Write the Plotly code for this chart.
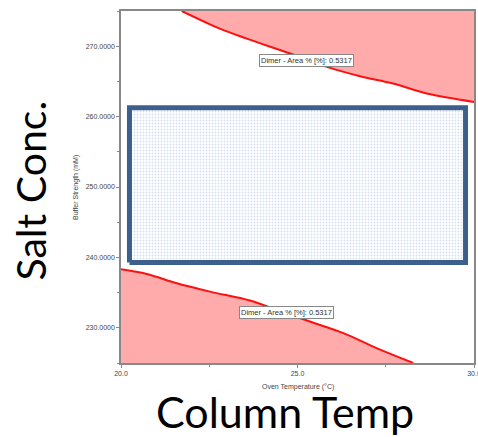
import plotly.graph_objects as go

# Oven temperature (°C) vs buffer strength (mM) contours at Dimer area % = 0.5317
upper_temp = [21.72, 22.80, 23.56, 24.79, 25.83, 26.77, 27.71, 28.66, 30.00]
upper_salt = [275.00, 272.50, 271.08, 268.96, 267.06, 265.74, 264.70, 263.28, 262.09]

lower_temp = [20.00, 20.73, 21.58, 22.52, 23.65, 24.41, 25.35, 26.30, 27.24, 28.28]
lower_salt = [238.32, 237.65, 236.33, 235.14, 233.87, 232.55, 230.89, 229.24, 227.11, 225.00]

# Design space rectangle (temperature / buffer strength limits)
design_temp = [20.24, 29.76]
design_salt = [239.26, 261.27]

x_range = [20.0, 30.0]
y_range = [225.0, 275.0]

contour_label = "Dimer - Area % [%]: 0.5317"
upper_label_pos = (25.26, 267.96)
lower_label_pos = (24.69, 232.16)

fill_red = "#FFABAB"
line_red = "#FF1010"

fig = go.Figure()

# Region above the upper contour
fig.add_trace(go.Scatter(
    x=upper_temp + [x_range[1], upper_temp[0]],
    y=upper_salt + [y_range[1], upper_salt[0]],
    fill="toself", fillcolor=fill_red, mode="lines",
    line=dict(color="rgba(0,0,0,0)", width=0), hoverinfo="skip", showlegend=False))
fig.add_trace(go.Scatter(
    x=upper_temp, y=upper_salt, mode="lines",
    line=dict(color=line_red, width=2, shape="spline"), showlegend=False))

# Region below the lower contour
fig.add_trace(go.Scatter(
    x=lower_temp + [x_range[0], lower_temp[0]],
    y=lower_salt + [y_range[0], lower_salt[0]],
    fill="toself", fillcolor=fill_red, mode="lines",
    line=dict(color="rgba(0,0,0,0)", width=0), hoverinfo="skip", showlegend=False))
fig.add_trace(go.Scatter(
    x=lower_temp, y=lower_salt, mode="lines",
    line=dict(color=line_red, width=2, shape="spline"), showlegend=False))

# Design space box with dotted fill
bx = [design_temp[0], design_temp[1], design_temp[1], design_temp[0], design_temp[0]]
by = [design_salt[0], design_salt[0], design_salt[1], design_salt[1], design_salt[0]]
fig.add_trace(go.Scatter(
    x=bx, y=by, mode="lines", fill="toself",
    fillcolor="white",
    fillpattern=dict(shape=".", fgcolor="#A9BFE0", bgcolor="white", size=3, solidity=0.3),
    line=dict(color="#3D5F8C", width=5), showlegend=False))

tick_font = dict(family="Liberation Sans, Arial, sans-serif", size=7, color="#444")

for (lx, ly) in (upper_label_pos, lower_label_pos):
    fig.add_annotation(
        x=lx, y=ly, xref="x", yref="y", text=contour_label, showarrow=False,
        font=dict(family="Liberation Sans, Arial, sans-serif", size=7.5, color="#333"),
        bgcolor="white", bordercolor="#888", borderwidth=1, borderpad=1)

# Axis titles
fig.add_annotation(
    x=0.5, y=-0.068, xref="paper", yref="paper", text="Oven Temperature (°C)",
    showarrow=False, font=tick_font, xanchor="center", yanchor="middle")
fig.add_annotation(
    x=-0.1275, y=0.5, xref="paper", yref="paper", text="Buffer Strength (mM)",
    showarrow=False, font=tick_font, textangle=-90, xanchor="center", yanchor="middle")

# Large slide labels
big_font = dict(family="Lato, Open Sans, sans-serif", size=43, color="black")
fig.add_annotation(
    x=-0.255, y=0.49, xref="paper", yref="paper", text="Salt Conc.",
    showarrow=False, font=dict(family="Lato, Open Sans, sans-serif", size=41, color="black"),
    textangle=-90, xanchor="center", yanchor="middle")
fig.add_annotation(
    x=0.465, y=-0.138, xref="paper", yref="paper", text="Column Temp",
    showarrow=False, font=big_font, xanchor="center", yanchor="middle")

fig.update_layout(
    width=478, height=437,
    margin=dict(l=121, r=4, t=11, b=74),
    paper_bgcolor="white", plot_bgcolor="white",
    font=tick_font,
    xaxis=dict(range=x_range, dtick=5, tick0=20, tickformat=".1f", automargin=False,
               showgrid=False, zeroline=False, showline=True, linecolor="#888",
               linewidth=1.5, mirror=True, ticks="outside", ticklen=3, tickcolor="#888",
               tickfont=tick_font, ticklabeloverflow="allow",
               minor=dict(dtick=2.5, ticks="outside", ticklen=2, tickcolor="#888")),
    yaxis=dict(range=y_range, dtick=10, tick0=230, tickformat=".4f", automargin=False,
               showgrid=False, zeroline=False, showline=True, linecolor="#888",
               linewidth=1.5, mirror=True, ticks="outside", ticklen=3, tickcolor="#888",
               tickfont=tick_font,
               minor=dict(dtick=5, tick0=225, ticks="outside", ticklen=2, tickcolor="#888")),
)

fig.write_html("out.html")
